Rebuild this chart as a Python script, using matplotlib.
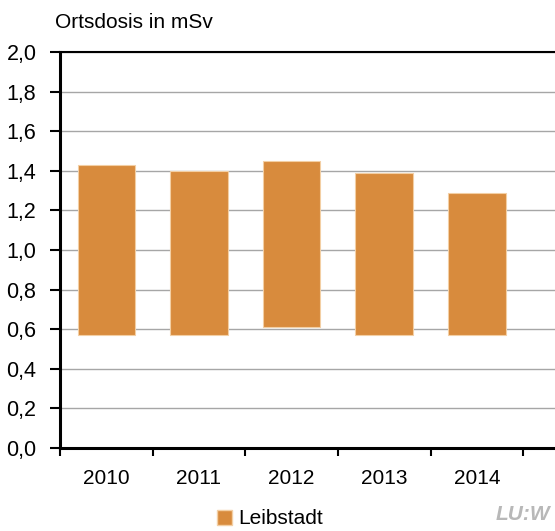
import matplotlib
matplotlib.use("Agg")
import matplotlib.pyplot as plt
from matplotlib.patches import Patch

years = ["2010", "2011", "2012", "2013", "2014"]
low = [0.57, 0.57, 0.61, 0.57, 0.57]
high = [1.43, 1.40, 1.45, 1.39, 1.29]
yticks = [0.0, 0.2, 0.4, 0.6, 0.8, 1.0, 1.2, 1.4, 1.6, 1.8, 2.0]

plt.rcParams['font.family'] = ['Liberation Sans', 'DejaVu Sans']

fig = plt.figure(figsize=(5.55, 5.31), dpi=100)
W, H = 555, 531
left = 60
ax = fig.add_axes([left / W, 1 - 448 / H, (555 - left) / W, (448 - 52) / H])

x = list(range(len(years)))
heights = [h - l for h, l in zip(high, low)]
ax.bar(x, heights, bottom=low, width=0.62, color='#D88B3D',
       edgecolor='#F3CFA4', linewidth=0.8, zorder=3, label='Leibstadt')

ax.set_ylim(0, 2.0)
ax.set_xlim(-0.5, 4.5 + (555 - 523) / 93)
ax.set_yticks(yticks)
ax.set_yticklabels([f"{v:.1f}".replace('.', ',') for v in yticks], fontsize=15.5)
ax.yaxis.grid(True, color='#A6A6A6', linewidth=1.0, zorder=0)
ax.set_axisbelow(True)

ax.set_xticks([i - 0.5 for i in range(len(years) + 1)])
ax.set_xticklabels([])
ax.set_xticks(x, minor=True)
ax.set_xticklabels(years, minor=True, fontsize=15)
ax.tick_params(axis='x', which='minor', length=0, pad=15)
ax.tick_params(axis='x', which='major', length=6, width=1.5, direction='out')
ax.tick_params(axis='y', length=7, width=1.5, direction='out', pad=10)

ax.spines['left'].set_linewidth(2.2)
ax.spines['bottom'].set_linewidth(2.2)
ax.spines['top'].set_linewidth(1.5)
ax.spines['right'].set_visible(False)

fig.text(55 / W, 1 - 22 / H, "Ortsdosis in mSv", fontsize=15, va='center', ha='left')

fig.legend(handles=[Patch(facecolor='#D88B3D', edgecolor='#F3CFA4', label='Leibstadt')],
           loc='center', bbox_to_anchor=(270 / W, 1 - 519 / H), frameon=False,
           fontsize=15, handlelength=0.7, handleheight=0.7, handletextpad=0.3,
           borderpad=0, borderaxespad=0)

fig.text(550 / W, 1 - 514 / H, "LU:W", fontsize=15, color='#B8B8B8',
         fontweight='bold', fontstyle='italic', ha='right', va='center')

fig.savefig("out.png", dpi=100)
